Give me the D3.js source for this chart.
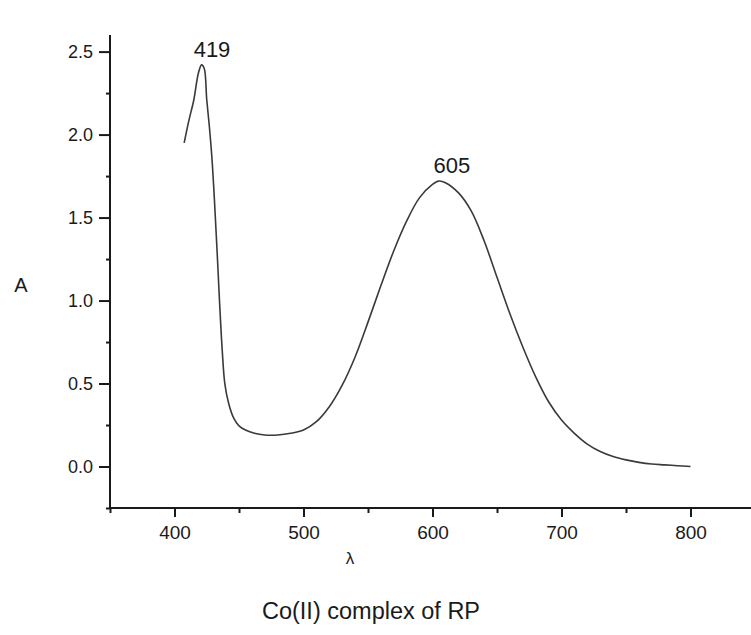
<!DOCTYPE html>
<html>
<head>
<meta charset="utf-8">
<script src="https://cdn.jsdelivr.net/npm/d3@7"></script>
<style>
  html, body { margin: 0; padding: 0; background: #fff; }
  svg { display: block; }
  text { font-family: "Liberation Sans", Arial, Helvetica, sans-serif; fill: #1a1a1a; }
</style>
</head>
<body>
<svg id="chart" width="751" height="635"></svg>
<script>
// ---- data ----
const wavelength = [407.5, 411, 415, 418.5, 421, 423, 425, 427, 429, 431, 433, 435, 437, 439, 442, 446, 450, 455, 462, 470, 480, 490, 500, 510, 520, 530, 540, 550, 560, 570, 580, 590, 600, 605, 610, 620, 630, 640, 650, 660, 670, 680, 690, 700, 710, 720, 730, 740, 750, 760, 770, 780, 790, 800];
const absorbance = [1.95, 2.08, 2.21, 2.37, 2.42, 2.40, 2.21, 2.05, 1.86, 1.60, 1.30, 0.98, 0.70, 0.50, 0.38, 0.29, 0.245, 0.22, 0.20, 0.19, 0.19, 0.20, 0.22, 0.27, 0.36, 0.49, 0.66, 0.87, 1.09, 1.30, 1.48, 1.62, 1.70, 1.72, 1.71, 1.65, 1.54, 1.36, 1.14, 0.92, 0.72, 0.54, 0.39, 0.28, 0.20, 0.135, 0.09, 0.06, 0.04, 0.025, 0.015, 0.01, 0.005, 0.0];
const peakWavelengths = [419, 605];
const peakValues = [2.42, 1.72];
const peakLabels = ["419", "605"];
const xMajorTicks = [400, 500, 600, 700, 800];
const xMinorTicks = [350, 450, 550, 650, 750, 850];
const yMajorTicks = [0.0, 0.5, 1.0, 1.5, 2.0, 2.5];
const yMinorTicks = [-0.25, 0.25, 0.75, 1.25, 1.75, 2.25];
const xTitle = "λ";
const yTitle = "A";
const chartTitle = "Co(II) complex of RP";

// ---- scales ----
const svg = d3.select("#chart");
const x = d3.scaleLinear().domain([350, 850]).range([110, 755]);
const y = d3.scaleLinear().domain([-0.25, 2.6]).range([508, 35]);

const axisColor = "#1a1a1a";
const fontFam = '"Liberation Sans", Arial, sans-serif';

// ---- axes ----
const gx = svg.append("g").attr("transform", `translate(0,${y(-0.25)})`);
gx.call(d3.axisBottom(x).tickValues(xMinorTicks).tickSize(5).tickSizeOuter(0).tickFormat(""));
gx.call(g => g.select(".domain").remove());
const gx2 = svg.append("g").attr("transform", `translate(0,${y(-0.25)})`);
gx2.call(d3.axisBottom(x).tickValues(xMajorTicks).tickSize(9).tickSizeOuter(0).tickPadding(9).tickFormat(d3.format("d")));
gx2.selectAll("text").attr("font-size", 19).style("font-family", fontFam).attr("fill", "#1a1a1a");
gx2.select(".domain").attr("stroke", axisColor).attr("stroke-width", 2).attr("d", `M${x(350)},0H${x(850)}`);

const gy = svg.append("g").attr("transform", `translate(${x(350)},0)`);
gy.call(d3.axisLeft(y).tickValues(yMinorTicks).tickSize(4).tickSizeOuter(0).tickFormat(""));
gy.call(g => g.select(".domain").remove());
const gy2 = svg.append("g").attr("transform", `translate(${x(350)},0)`);
gy2.call(d3.axisLeft(y).tickValues(yMajorTicks).tickSize(11).tickSizeOuter(0).tickPadding(6).tickFormat(d3.format(".1f")));
gy2.selectAll("text").attr("font-size", 18).style("font-family", fontFam).attr("fill", "#1a1a1a");
gy2.select(".domain").attr("stroke", axisColor).attr("stroke-width", 2).attr("d", `M0,${y(2.6)}V${y(-0.25)}`);
svg.selectAll(".tick line").attr("stroke", axisColor).attr("stroke-width", 2);

// ---- curve ----
const pts = wavelength.map((w, i) => [w, absorbance[i]]);
const line = d3.line().x(d => x(d[0])).y(d => y(d[1])).curve(d3.curveCatmullRom.alpha(0.5));
svg.append("path")
  .datum(pts)
  .attr("d", line)
  .attr("fill", "none")
  .attr("stroke", "#3a3a3a")
  .attr("stroke-width", 1.6)
  .attr("stroke-linejoin", "round");

// ---- peak labels ----
svg.selectAll(".peak")
  .data(peakLabels)
  .enter().append("text")
  .attr("class", "peak")
  .attr("x", (d, i) => x(peakWavelengths[i]) + 13)
  .attr("y", (d, i) => y(peakValues[i]) - 8)
  .attr("text-anchor", "middle")
  .attr("font-size", 22)
  .text(d => d);

// ---- titles ----
svg.append("text").attr("x", 21).attr("y", 292).attr("text-anchor", "middle").attr("font-size", 20).text(yTitle);
svg.append("text").attr("x", 350).attr("y", 564).attr("text-anchor", "middle").attr("font-size", 17).text(xTitle);
svg.append("text").attr("x", 371).attr("y", 619).attr("text-anchor", "middle").attr("font-size", 23.5).text(chartTitle);
</script>
</body>
</html>
